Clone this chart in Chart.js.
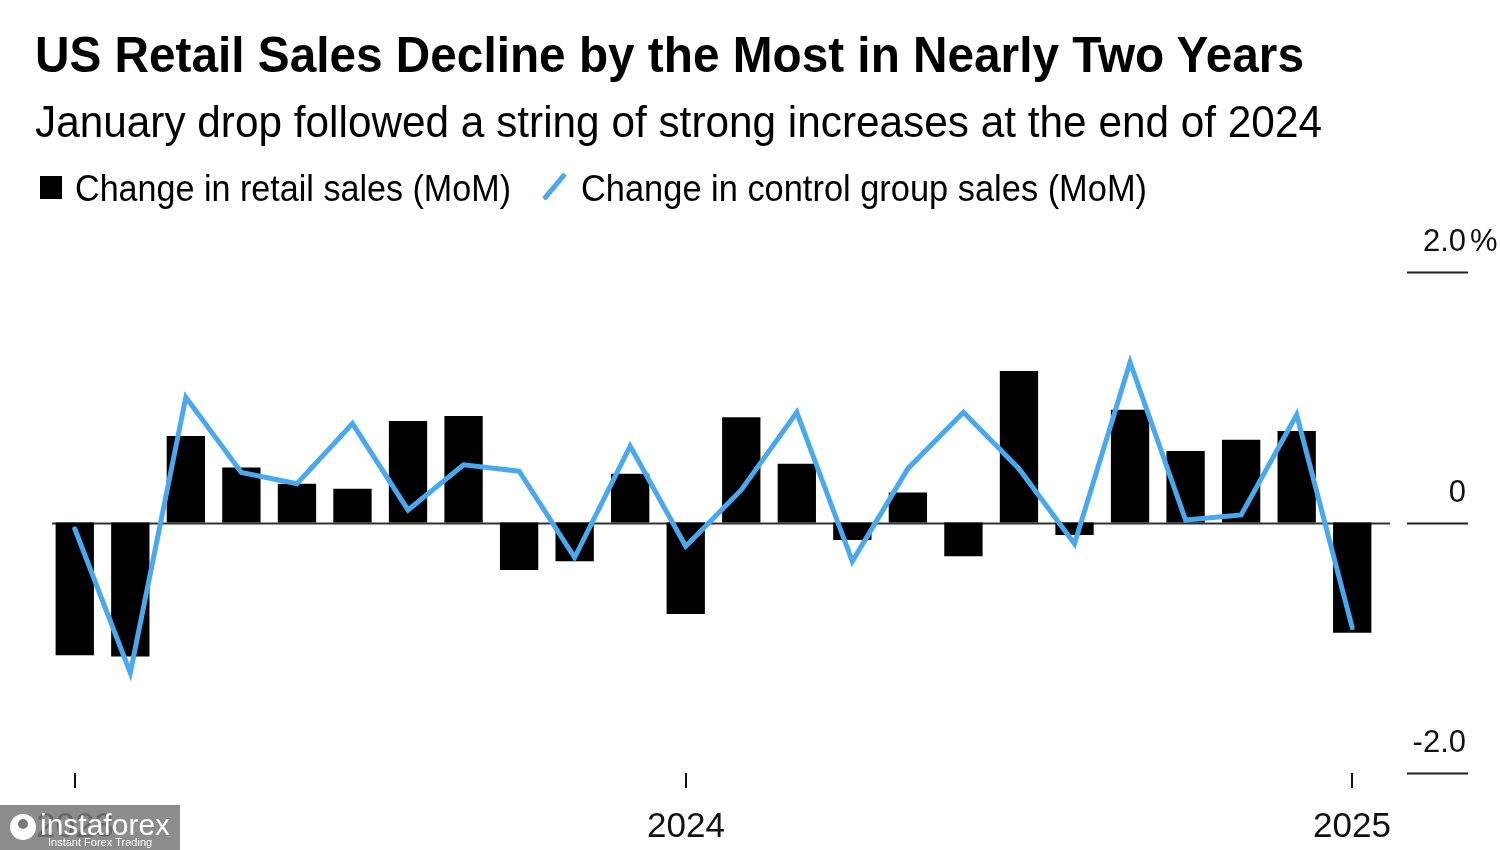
<!DOCTYPE html>
<html>
<head>
<meta charset="utf-8">
<script src="https://cdn.jsdelivr.net/npm/chart.js@4.4.1/dist/chart.umd.min.js"></script>
<style>
	body { margin: 0; background: #fff; width: 1500px; height: 850px; overflow: hidden; position: relative; font-family: "Liberation Sans", Arial, sans-serif; }
	#wrap { position: absolute; left: 0; top: 0; width: 1500px; height: 850px; }
	.txt { position: absolute; white-space: nowrap; transform-origin: 0 0; color: #000; line-height: 1; }
	#legBox { position: absolute; left: 40px; top: 176px; width: 22px; height: 23px; background: #000; }
	#legLine { position: absolute; left: 552px; top: 170px; width: 5px; height: 33px; background: #4aa8ee; transform: rotate(40deg); border-radius: 2px; }
</style>
</head>
<body>
<div id="wrap"><canvas id="myChart" width="1500" height="850"></canvas></div>
<div class="txt" id="title" data-w="1269" style="left:35px;top:30px;font-size:50px;font-weight:bold;">US Retail Sales Decline by the Most in Nearly Two Years</div>
<div class="txt" id="sub" data-w="1287" style="left:35px;top:100px;font-size:44px;">January drop followed a string of strong increases at the end of 2024</div>
<div id="legBox"></div>
<div class="txt" data-w="436" style="left:75px;top:170px;font-size:37px;">Change in retail sales (MoM)</div>
<div id="legLine"></div>
<div class="txt" data-w="566" style="left:581px;top:170px;font-size:37px;">Change in control group sales (MoM)</div>
<script>
// monthly readings, Feb 2023 .. Jan 2025
const months = [
	"Feb 2023", "Mar 2023", "Apr 2023", "May 2023", "Jun 2023", "Jul 2023",
	"Aug 2023", "Sep 2023", "Oct 2023", "Nov 2023", "Dec 2023", "Jan 2024",
	"Feb 2024", "Mar 2024", "Apr 2024", "May 2024", "Jun 2024", "Jul 2024",
	"Aug 2024", "Sep 2024", "Oct 2024", "Nov 2024", "Dec 2024", "Jan 2025",
];
const retailSales = [
	-1.06, -1.07, 0.69, 0.44, 0.31, 0.27, 0.81, 0.85, -0.38, -0.31, 0.39, -0.73,
	0.84, 0.47, -0.14, 0.24, -0.27, 1.21, -0.10, 0.90, 0.57, 0.66, 0.73, -0.88,
];
const controlGroup = [
	-0.05, -1.20, 1.00, 0.40, 0.31, 0.79, 0.10, 0.46, 0.41, -0.28, 0.61, -0.19,
	0.26, 0.88, -0.31, 0.43, 0.88, 0.43, -0.17, 1.28, 0.02, 0.06, 0.86, -0.84,
];
const yearTickMonths = ["Feb 2023", "Jan 2024", "Jan 2025"];
const yearLabels = ["2023", "2024", "2025"];
const yTicks = [2, 0, -2];
const yLabels = ["2.0", "0", "-2.0"];

const FONT = '"Liberation Sans", Arial, sans-serif';

const axesPlugin = {
	id: "bbgAxes",
	beforeDatasetsDraw(chart) {
		const { ctx, scales: { y } } = chart;
		const y0 = Math.round(y.getPixelForValue(0)) + 0.5;
		ctx.save();
		ctx.strokeStyle = "#333";
		ctx.lineWidth = 2;
		ctx.beginPath();
		ctx.moveTo(52, y0);
		ctx.lineTo(1390, y0);
		ctx.stroke();
		ctx.restore();
	},
	afterDraw(chart) {
		const { ctx, scales: { x, y } } = chart;
		ctx.save();
		// right axis: short rules with labels above
		ctx.strokeStyle = "#222";
		ctx.fillStyle = "#111";
		ctx.lineWidth = 2;
		ctx.font = `31px ${FONT}`;
		ctx.textAlign = "right";
		ctx.textBaseline = "alphabetic";
		yTicks.forEach((v, i) => {
			const py = Math.round(y.getPixelForValue(v)) + 0.5;
			ctx.beginPath();
			ctx.moveTo(1407, py);
			ctx.lineTo(1468, py);
			ctx.stroke();
			ctx.fillText(yLabels[i], 1466, py - 22);
			if (i === 0) {
				ctx.textAlign = "left";
				ctx.fillText("%", 1470, py - 22);
				ctx.textAlign = "right";
			}
		});
		// bottom axis: year ticks
		ctx.font = `35px ${FONT}`;
		ctx.textAlign = "center";
		yearTickMonths.forEach((m, i) => {
			const px = Math.round(x.getPixelForValue(months.indexOf(m)));
			ctx.fillRect(px - 1, 773, 2, 15);
			ctx.fillText(yearLabels[i], px, 837);
		});
		// watermark
		ctx.fillStyle = "rgba(120,120,120,0.85)";
		ctx.fillRect(0, 805, 180, 45);
		ctx.fillStyle = "#fff";
		ctx.beginPath();
		ctx.arc(23, 827, 13, 0, Math.PI * 2);
		ctx.fill();
		ctx.fillStyle = "rgba(120,120,120,1)";
		ctx.beginPath();
		ctx.arc(23, 824, 5, 0, Math.PI * 2);
		ctx.fill();
		ctx.fillStyle = "#fff";
		ctx.textAlign = "left";
		ctx.font = `30px ${FONT}`;
		ctx.fillText("instaforex", 40, 835);
		ctx.font = `11px ${FONT}`;
		ctx.fillText("Instant Forex Trading", 48, 846);
		ctx.restore();
	},
};

const ctx = document.getElementById("myChart").getContext("2d");

const createChart = () => {
	return new Chart(ctx, {
		type: "bar",
		data: {
			labels: months,
			datasets: [
				{
					type: "line",
					label: "Change in control group sales (MoM)",
					data: controlGroup,
					borderColor: "#4aa8ee",
					borderWidth: 5,
					pointRadius: 0,
					tension: 0,
					borderCapStyle: "round",
					order: 0,
				},
				{
					label: "Change in retail sales (MoM)",
					data: retailSales,
					backgroundColor: "#000",
					barPercentage: 0.69,
					categoryPercentage: 1,
					order: 1,
				},
			],
		},
		options: {
			responsive: false,
			animation: false,
			layout: { padding: { left: 47, right: 120, top: 272, bottom: 77 } },
			plugins: { legend: { display: false }, tooltip: { enabled: false } },
			scales: {
				x: { display: false, offset: true },
				y: { display: false, min: -2, max: 2 },
			},
		},
		plugins: [axesPlugin],
	});
};

createChart();

document.querySelectorAll(".txt[data-w]").forEach((el) => {
	const w = el.getBoundingClientRect().width;
	el.style.transform = `scaleX(${el.dataset.w / w})`;
});
</script>
</body>
</html>
